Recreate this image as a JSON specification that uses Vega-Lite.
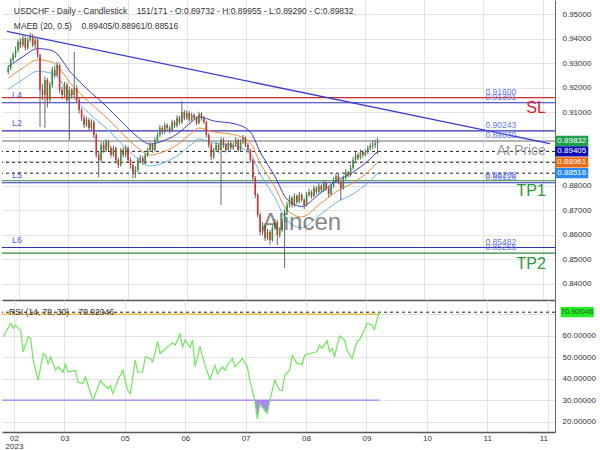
{
"$schema": "https://vega.github.io/schema/vega-lite/v6.json",
"padding": 0,
"spacing": 0,
"background": "white",
"config": {"view": {"stroke": null}, "font": "Liberation Sans", "axis": {"labelFontSize": 8, "labelColor": "#333", "gridColor": "#e3e3e3", "domainColor": "#555", "ticks": false, "labelPadding": 7, "labelOverlap": false}},
"datasets": {
"candles": [
{"i":0,"o":0.9265,"h":0.9292,"l":0.9255,"c":0.9281},
{"i":1,"o":0.9281,"h":0.9322,"l":0.9272,"c":0.9314},
{"i":2,"o":0.9314,"h":0.9345,"l":0.9305,"c":0.9334},
{"i":3,"o":0.9334,"h":0.9368,"l":0.9322,"c":0.9354},
{"i":4,"o":0.9354,"h":0.9398,"l":0.9345,"c":0.9387},
{"i":5,"o":0.9387,"h":0.9402,"l":0.9362,"c":0.9375},
{"i":6,"o":0.9375,"h":0.9418,"l":0.9366,"c":0.9403},
{"i":7,"o":0.9403,"h":0.9410,"l":0.9352,"c":0.9363},
{"i":8,"o":0.9363,"h":0.9405,"l":0.9355,"c":0.9395},
{"i":9,"o":0.9395,"h":0.9425,"l":0.9386,"c":0.9412},
{"i":10,"o":0.9412,"h":0.9420,"l":0.9366,"c":0.9375},
{"i":11,"o":0.9375,"h":0.9404,"l":0.9362,"c":0.9395},
{"i":12,"o":0.9395,"h":0.9402,"l":0.9322,"c":0.9334},
{"i":13,"o":0.9334,"h":0.9340,"l":0.9040,"c":0.9191},
{"i":14,"o":0.9191,"h":0.9215,"l":0.9150,"c":0.9171},
{"i":15,"o":0.9171,"h":0.9245,"l":0.9036,"c":0.9232},
{"i":16,"o":0.9232,"h":0.9240,"l":0.9120,"c":0.9150},
{"i":17,"o":0.9150,"h":0.9225,"l":0.9140,"c":0.9212},
{"i":18,"o":0.9212,"h":0.9285,"l":0.9200,"c":0.9273},
{"i":19,"o":0.9273,"h":0.9290,"l":0.9240,"c":0.9252},
{"i":20,"o":0.9252,"h":0.9305,"l":0.9245,"c":0.9293},
{"i":21,"o":0.9293,"h":0.9300,"l":0.9180,"c":0.9191},
{"i":22,"o":0.9191,"h":0.9205,"l":0.9155,"c":0.9171},
{"i":23,"o":0.9171,"h":0.9225,"l":0.9160,"c":0.9212},
{"i":24,"o":0.9212,"h":0.9222,"l":0.9138,"c":0.9150},
{"i":25,"o":0.9150,"h":0.9205,"l":0.8987,"c":0.9191},
{"i":26,"o":0.9191,"h":0.9200,"l":0.9160,"c":0.9171},
{"i":27,"o":0.9171,"h":0.9346,"l":0.9160,"c":0.9199},
{"i":28,"o":0.9199,"h":0.9210,"l":0.9138,"c":0.9150},
{"i":29,"o":0.9150,"h":0.9160,"l":0.9095,"c":0.9109},
{"i":30,"o":0.9109,"h":0.9118,"l":0.9065,"c":0.9077},
{"i":31,"o":0.9077,"h":0.9088,"l":0.9035,"c":0.9048},
{"i":32,"o":0.9048,"h":0.9082,"l":0.9040,"c":0.9069},
{"i":33,"o":0.9069,"h":0.9078,"l":0.9025,"c":0.9036},
{"i":34,"o":0.9036,"h":0.9072,"l":0.9028,"c":0.9060},
{"i":35,"o":0.9060,"h":0.9068,"l":0.8995,"c":0.9007},
{"i":36,"o":0.9007,"h":0.9015,"l":0.8915,"c":0.8926},
{"i":37,"o":0.8926,"h":0.8940,"l":0.8836,"c":0.8905},
{"i":38,"o":0.8905,"h":0.8978,"l":0.8895,"c":0.8967},
{"i":39,"o":0.8967,"h":0.8980,"l":0.8935,"c":0.8946},
{"i":40,"o":0.8946,"h":0.8990,"l":0.8938,"c":0.8979},
{"i":41,"o":0.8979,"h":0.8988,"l":0.8942,"c":0.8954},
{"i":42,"o":0.8954,"h":0.8962,"l":0.8915,"c":0.8926},
{"i":43,"o":0.8926,"h":0.8965,"l":0.8918,"c":0.8954},
{"i":44,"o":0.8954,"h":0.8960,"l":0.8895,"c":0.8905},
{"i":45,"o":0.8905,"h":0.8915,"l":0.8872,"c":0.8885},
{"i":46,"o":0.8885,"h":0.8955,"l":0.8878,"c":0.8946},
{"i":47,"o":0.8946,"h":0.8958,"l":0.8915,"c":0.8926},
{"i":48,"o":0.8926,"h":0.8965,"l":0.8918,"c":0.8954},
{"i":49,"o":0.8954,"h":0.8962,"l":0.8895,"c":0.8905},
{"i":50,"o":0.8905,"h":0.8915,"l":0.8870,"c":0.8885},
{"i":51,"o":0.8885,"h":0.8892,"l":0.8830,"c":0.8856},
{"i":52,"o":0.8856,"h":0.8880,"l":0.8832,"c":0.8865},
{"i":53,"o":0.8865,"h":0.8915,"l":0.8855,"c":0.8905},
{"i":54,"o":0.8905,"h":0.8925,"l":0.8895,"c":0.8914},
{"i":55,"o":0.8914,"h":0.8922,"l":0.8885,"c":0.8897},
{"i":56,"o":0.8897,"h":0.8935,"l":0.8888,"c":0.8926},
{"i":57,"o":0.8926,"h":0.8955,"l":0.8918,"c":0.8946},
{"i":58,"o":0.8946,"h":0.8978,"l":0.8938,"c":0.8967},
{"i":59,"o":0.8967,"h":0.8975,"l":0.8935,"c":0.8946},
{"i":60,"o":0.8946,"h":0.8998,"l":0.8940,"c":0.8987},
{"i":61,"o":0.8987,"h":0.9018,"l":0.8978,"c":0.9007},
{"i":62,"o":0.9007,"h":0.9048,"l":0.9000,"c":0.9036},
{"i":63,"o":0.9036,"h":0.9045,"l":0.9010,"c":0.9020},
{"i":64,"o":0.9020,"h":0.9058,"l":0.9012,"c":0.9048},
{"i":65,"o":0.9048,"h":0.9055,"l":0.9025,"c":0.9036},
{"i":66,"o":0.9036,"h":0.9045,"l":0.9015,"c":0.9028},
{"i":67,"o":0.9028,"h":0.9070,"l":0.9020,"c":0.9060},
{"i":68,"o":0.9060,"h":0.9068,"l":0.9035,"c":0.9044},
{"i":69,"o":0.9044,"h":0.9088,"l":0.9038,"c":0.9077},
{"i":70,"o":0.9077,"h":0.9085,"l":0.9050,"c":0.9060},
{"i":71,"o":0.9060,"h":0.9146,"l":0.9052,"c":0.9101},
{"i":72,"o":0.9101,"h":0.9110,"l":0.9068,"c":0.9077},
{"i":73,"o":0.9077,"h":0.9108,"l":0.9070,"c":0.9097},
{"i":74,"o":0.9097,"h":0.9105,"l":0.9060,"c":0.9069},
{"i":75,"o":0.9069,"h":0.9098,"l":0.9062,"c":0.9089},
{"i":76,"o":0.9089,"h":0.9096,"l":0.9068,"c":0.9077},
{"i":77,"o":0.9077,"h":0.9085,"l":0.9048,"c":0.9056},
{"i":78,"o":0.9056,"h":0.9102,"l":0.9050,"c":0.9093},
{"i":79,"o":0.9093,"h":0.9100,"l":0.9066,"c":0.9077},
{"i":80,"o":0.9077,"h":0.9085,"l":0.9052,"c":0.9060},
{"i":81,"o":0.9060,"h":0.9066,"l":0.8998,"c":0.9007},
{"i":82,"o":0.9007,"h":0.9015,"l":0.8955,"c":0.8967},
{"i":83,"o":0.8967,"h":0.8975,"l":0.8905,"c":0.8918},
{"i":84,"o":0.8918,"h":0.8955,"l":0.8910,"c":0.8946},
{"i":85,"o":0.8946,"h":0.8978,"l":0.8938,"c":0.8967},
{"i":86,"o":0.8967,"h":0.8975,"l":0.8935,"c":0.8946},
{"i":87,"o":0.8946,"h":0.8998,"l":0.8722,"c":0.8987},
{"i":88,"o":0.8987,"h":0.8995,"l":0.8955,"c":0.8967},
{"i":89,"o":0.8967,"h":0.8975,"l":0.8936,"c":0.8946},
{"i":90,"o":0.8946,"h":0.8985,"l":0.8940,"c":0.8975},
{"i":91,"o":0.8975,"h":0.8982,"l":0.8945,"c":0.8954},
{"i":92,"o":0.8954,"h":0.8978,"l":0.8946,"c":0.8967},
{"i":93,"o":0.8967,"h":0.8998,"l":0.8960,"c":0.8987},
{"i":94,"o":0.8987,"h":0.8992,"l":0.8938,"c":0.8946},
{"i":95,"o":0.8946,"h":0.8990,"l":0.8940,"c":0.8979},
{"i":96,"o":0.8979,"h":0.9008,"l":0.8970,"c":0.8995},
{"i":97,"o":0.8995,"h":0.9002,"l":0.8958,"c":0.8967},
{"i":98,"o":0.8967,"h":0.8975,"l":0.8935,"c":0.8946},
{"i":99,"o":0.8946,"h":0.8952,"l":0.8895,"c":0.8905},
{"i":100,"o":0.8905,"h":0.8912,"l":0.8822,"c":0.8832},
{"i":101,"o":0.8832,"h":0.8840,"l":0.8750,"c":0.8763},
{"i":102,"o":0.8763,"h":0.8770,"l":0.8670,"c":0.8681},
{"i":103,"o":0.8681,"h":0.8690,"l":0.8598,"c":0.8612},
{"i":104,"o":0.8612,"h":0.8652,"l":0.8600,"c":0.8640},
{"i":105,"o":0.8640,"h":0.8648,"l":0.8575,"c":0.8587},
{"i":106,"o":0.8587,"h":0.8625,"l":0.8578,"c":0.8612},
{"i":107,"o":0.8612,"h":0.8620,"l":0.8560,"c":0.8579},
{"i":108,"o":0.8579,"h":0.8640,"l":0.8572,"c":0.8628},
{"i":109,"o":0.8628,"h":0.8665,"l":0.8620,"c":0.8652},
{"i":110,"o":0.8652,"h":0.8660,"l":0.8558,"c":0.8599},
{"i":111,"o":0.8599,"h":0.8632,"l":0.8588,"c":0.8620},
{"i":112,"o":0.8620,"h":0.8665,"l":0.8612,"c":0.8652},
{"i":113,"o":0.8652,"h":0.8705,"l":0.8465,"c":0.8693},
{"i":114,"o":0.8693,"h":0.8735,"l":0.8685,"c":0.8722},
{"i":115,"o":0.8722,"h":0.8762,"l":0.8712,"c":0.8750},
{"i":116,"o":0.8750,"h":0.8758,"l":0.8712,"c":0.8722},
{"i":117,"o":0.8722,"h":0.8770,"l":0.8715,"c":0.8758},
{"i":118,"o":0.8758,"h":0.8765,"l":0.8725,"c":0.8734},
{"i":119,"o":0.8734,"h":0.8775,"l":0.8728,"c":0.8763},
{"i":120,"o":0.8763,"h":0.8770,"l":0.8735,"c":0.8742},
{"i":121,"o":0.8742,"h":0.8750,"l":0.8705,"c":0.8722},
{"i":122,"o":0.8722,"h":0.8775,"l":0.8715,"c":0.8763},
{"i":123,"o":0.8763,"h":0.8788,"l":0.8755,"c":0.8775},
{"i":124,"o":0.8775,"h":0.8782,"l":0.8748,"c":0.8758},
{"i":125,"o":0.8758,"h":0.8802,"l":0.8752,"c":0.8791},
{"i":126,"o":0.8791,"h":0.8798,"l":0.8765,"c":0.8775},
{"i":127,"o":0.8775,"h":0.8810,"l":0.8768,"c":0.8799},
{"i":128,"o":0.8799,"h":0.8806,"l":0.8774,"c":0.8783},
{"i":129,"o":0.8783,"h":0.8822,"l":0.8776,"c":0.8812},
{"i":130,"o":0.8812,"h":0.8818,"l":0.8780,"c":0.8791},
{"i":131,"o":0.8791,"h":0.8798,"l":0.8755,"c":0.8767},
{"i":132,"o":0.8767,"h":0.8808,"l":0.8760,"c":0.8799},
{"i":133,"o":0.8799,"h":0.8835,"l":0.8792,"c":0.8824},
{"i":134,"o":0.8824,"h":0.8852,"l":0.8815,"c":0.8840},
{"i":135,"o":0.8840,"h":0.8848,"l":0.8806,"c":0.8816},
{"i":136,"o":0.8816,"h":0.8825,"l":0.8742,"c":0.8791},
{"i":137,"o":0.8791,"h":0.8842,"l":0.8785,"c":0.8832},
{"i":138,"o":0.8832,"h":0.8868,"l":0.8825,"c":0.8856},
{"i":139,"o":0.8856,"h":0.8862,"l":0.8835,"c":0.8844},
{"i":140,"o":0.8844,"h":0.8885,"l":0.8838,"c":0.8873},
{"i":141,"o":0.8873,"h":0.8918,"l":0.8866,"c":0.8905},
{"i":142,"o":0.8905,"h":0.8938,"l":0.8898,"c":0.8926},
{"i":143,"o":0.8926,"h":0.8935,"l":0.8905,"c":0.8914},
{"i":144,"o":0.8914,"h":0.8948,"l":0.8908,"c":0.8938},
{"i":145,"o":0.8938,"h":0.8945,"l":0.8915,"c":0.8926},
{"i":146,"o":0.8926,"h":0.8950,"l":0.8920,"c":0.8938},
{"i":147,"o":0.8938,"h":0.8965,"l":0.8930,"c":0.8954},
{"i":148,"o":0.8954,"h":0.8975,"l":0.8945,"c":0.8963},
{"i":149,"o":0.8963,"h":0.8985,"l":0.8950,"c":0.8967},
{"i":150,"o":0.8967,"h":0.8988,"l":0.8955,"c":0.8973},
{"i":151,"o":0.89732,"h":0.89955,"l":0.8929,"c":0.89832}
],
"ma": [
{"i":0,"up":0.9286,"mid":0.9240,"lo":0.9194},
{"i":6,"up":0.9327,"mid":0.9281,"lo":0.9234},
{"i":12,"up":0.9360,"mid":0.9314,"lo":0.9267},
{"i":18,"up":0.9352,"mid":0.9305,"lo":0.9259},
{"i":26,"up":0.9258,"mid":0.9212,"lo":0.9165},
{"i":33,"up":0.9188,"mid":0.9142,"lo":0.9096},
{"i":40,"up":0.9126,"mid":0.9081,"lo":0.9035},
{"i":46,"up":0.9065,"mid":0.9020,"lo":0.8975},
{"i":53,"up":0.8999,"mid":0.8954,"lo":0.8910},
{"i":58,"up":0.8970,"mid":0.8926,"lo":0.8881},
{"i":62,"up":0.8979,"mid":0.8934,"lo":0.8889},
{"i":69,"up":0.9011,"mid":0.8967,"lo":0.8922},
{"i":75,"up":0.9061,"mid":0.9016,"lo":0.8970},
{"i":78,"up":0.9081,"mid":0.9036,"lo":0.8991},
{"i":84,"up":0.9065,"mid":0.9020,"lo":0.8975},
{"i":93,"up":0.9052,"mid":0.9007,"lo":0.8962},
{"i":99,"up":0.9020,"mid":0.8975,"lo":0.8930},
{"i":103,"up":0.8938,"mid":0.8893,"lo":0.8849},
{"i":109,"up":0.8839,"mid":0.8795,"lo":0.8751},
{"i":114,"up":0.8745,"mid":0.8701,"lo":0.8658},
{"i":120,"up":0.8716,"mid":0.8673,"lo":0.8629},
{"i":127,"up":0.8765,"mid":0.8722,"lo":0.8678},
{"i":134,"up":0.8819,"mid":0.8775,"lo":0.8731},
{"i":141,"up":0.8856,"mid":0.8812,"lo":0.8767},
{"i":147,"up":0.8901,"mid":0.8856,"lo":0.8812},
{"i":151,"up":0.89405,"mid":0.88961,"lo":0.88516}
],
"trend": [{"i":-0.5,"v":0.9430},{"i":221.5,"v":0.8972}],
"levels": [
{"v":0.916,"k":"sl","lab":"0.91600","name":""},
{"v":0.91391,"k":"lvl","lab":"0.91391","name":"L4"},
{"v":0.90243,"k":"lvl","lab":"0.90243","name":"L2"},
{"v":0.89832,"k":"price","lab":"0.89830","name":""},
{"v":0.88208,"k":"tp","lab":"0.88208","name":""},
{"v":0.88126,"k":"lvl","lab":"0.88126","name":"L5"},
{"v":0.85482,"k":"lvl","lab":"0.85482","name":"L6"},
{"v":0.85256,"k":"tp","lab":"0.85256","name":""},
{"v":0.89405,"k":"ma","lab":"","name":""},
{"v":0.88961,"k":"ma","lab":"","name":""},
{"v":0.88516,"k":"ma","lab":"","name":""}
],
"tags": [
{"t":"SL","v":0.916,"k":"sl"},
{"t":"At Price","v":0.89832,"k":"price"},
{"t":"TP1","v":0.88208,"k":"tp"},
{"t":"TP2","v":0.85256,"k":"tp"}
],
"badges": [
{"v":0.89832,"t":"0.89832","b":"price"},
{"v":0.89405,"t":"0.89405","b":"up"},
{"v":0.88961,"t":"0.88961","b":"mid"},
{"v":0.88516,"t":"0.88516","b":"lo"}
],
"rsi": [
{"i":0,"r":59.5},{"i":3,"r":65.8},{"i":4,"r":63.4},{"i":5,"r":65},{"i":6,"r":63.4},{"i":7,"r":62.6},{"i":8,"r":52.5},{"i":10,"r":59.5},{"i":11,"r":58.8},{"i":12,"r":48.6},{"i":14,"r":39.2},{"i":16,"r":51.7},{"i":17,"r":50.9},{"i":18,"r":47},{"i":19,"r":50.2},{"i":21,"r":43.9},{"i":22,"r":45.5},{"i":24,"r":43.1},{"i":25,"r":46.7},{"i":26,"r":43.1},{"i":29,"r":43.9},{"i":30,"r":38.4},{"i":32,"r":37.7},{"i":33,"r":40.8},{"i":36,"r":29.8},{"i":39,"r":39.2},{"i":40,"r":37.7},{"i":42,"r":35.3},{"i":43,"r":36.9},{"i":44,"r":33},{"i":46,"r":39.2},{"i":47,"r":41.6},{"i":48,"r":43.9},{"i":50,"r":34.5},{"i":51,"r":33},{"i":53,"r":48.6},{"i":54,"r":43.1},{"i":56,"r":43.1},{"i":57,"r":50.2},{"i":59,"r":49.4},{"i":60,"r":47.8},{"i":62,"r":57.2},{"i":63,"r":51.7},{"i":66,"r":54.8},{"i":68,"r":56.7},{"i":69,"r":55.6},{"i":71,"r":60.8},{"i":72,"r":54.8},{"i":73,"r":58},{"i":75,"r":54.5},{"i":76,"r":58},{"i":77,"r":45.5},{"i":79,"r":54.8},{"i":81,"r":46.3},{"i":83,"r":39.5},{"i":85,"r":46.3},{"i":86,"r":42.3},{"i":88,"r":45.5},{"i":89,"r":43.9},{"i":90,"r":46.3},{"i":92,"r":49.4},{"i":93,"r":45.5},{"i":96,"r":49.4},{"i":98,"r":45.5},{"i":99,"r":39.2},{"i":101,"r":29.8},{"i":102,"r":21.3},{"i":103,"r":28.3},{"i":105,"r":25.2},{"i":106,"r":23.9},{"i":107,"r":29.8},{"i":108,"r":34.5},{"i":109,"r":39.2},{"i":111,"r":34.5},{"i":112,"r":34.5},{"i":113,"r":41.6},{"i":115,"r":43.9},{"i":116,"r":50.9},{"i":118,"r":47},{"i":120,"r":46.7},{"i":121,"r":50.9},{"i":123,"r":51.7},{"i":126,"r":52.5},{"i":127,"r":55.6},{"i":128,"r":54.1},{"i":130,"r":57.7},{"i":131,"r":52.5},{"i":132,"r":54.1},{"i":133,"r":50.2},{"i":135,"r":59.8},{"i":137,"r":58},{"i":138,"r":53.3},{"i":140,"r":49.4},{"i":142,"r":57.2},{"i":143,"r":58},{"i":145,"r":62.7},{"i":146,"r":65.8},{"i":148,"r":65},{"i":149,"r":62.7},{"i":150,"r":67.3},{"i":151,"r":70.92}
],
"rsifill": [
{"i":101,"r":29.8},{"i":102,"r":21.3},{"i":103,"r":28.3},{"i":105,"r":25.2},{"i":106,"r":23.9},{"i":107,"r":29.8}
],
"rsilevels": [
{"v":70,"k":"ob"},{"v":30,"k":"os"},{"v":70.92046,"k":"cur"}
]
},
"vconcat": [
{
"width": 553,
"height": 300,
"resolve": {"scale": {"color": "independent"}},
"layer": [
{"data": {"name": "levels"}, "transform": [{"filter": "datum.k == 'sl' || datum.k == 'lvl' || datum.k == 'tp'"}],
 "mark": {"type": "rule", "strokeWidth": 1.2},
 "encoding": {
  "y": {"field": "v", "type": "quantitative", "scale": {"domain": [0.8334, 0.95584], "nice": false, "zero": false}, "axis": {"orient": "right", "values": [0.84,0.85,0.86,0.87,0.88,0.89,0.9,0.91,0.92,0.93,0.94,0.95], "labelOverlap": false, "format": ".5f", "labelExpr": "datum.value == 0.9 || datum.value == 0.89 ? '' : datum.label", "title": null, "grid": true, "domainColor": "#666"}},
  "color": {"field": "k", "type": "nominal", "scale": {"domain": ["sl","lvl","tp"], "range": ["#d42a2a","#2f2fb8","#2e8b3a"]}, "legend": null}
 }},
{"data": {"name": "levels"}, "transform": [{"filter": "datum.k == 'price'"}],
 "mark": {"type": "rule", "strokeWidth": 2, "color": "#b5b5b5"},
 "encoding": {"y": {"field": "v", "type": "quantitative", "axis": {"orient": "right", "values": [0.84,0.85,0.86,0.87,0.88,0.89,0.9,0.91,0.92,0.93,0.94,0.95], "labelOverlap": false, "format": ".5f", "labelExpr": "datum.value == 0.9 || datum.value == 0.89 ? '' : datum.label", "title": null, "grid": true, "domainColor": "#666"}}}},
{"data": {"name": "levels"}, "transform": [{"filter": "datum.k == 'ma'"}],
 "mark": {"type": "rule", "strokeWidth": 1, "color": "#222", "strokeDash": [3,3]},
 "encoding": {"y": {"field": "v", "type": "quantitative", "axis": {"orient": "right", "values": [0.84,0.85,0.86,0.87,0.88,0.89,0.9,0.91,0.92,0.93,0.94,0.95], "labelOverlap": false, "format": ".5f", "labelExpr": "datum.value == 0.9 || datum.value == 0.89 ? '' : datum.label", "title": null, "grid": true, "domainColor": "#666"}}}},
{"data": {"name": "ma"}, "mark": {"type": "line", "color": "#6cb4f0", "strokeWidth": 1, "interpolate": "monotone"},
 "encoding": {"x": {"field": "i", "type": "quantitative"}, "y": {"field": "lo", "type": "quantitative", "axis": {"orient": "right", "values": [0.84,0.85,0.86,0.87,0.88,0.89,0.9,0.91,0.92,0.93,0.94,0.95], "labelOverlap": false, "format": ".5f", "labelExpr": "datum.value == 0.9 || datum.value == 0.89 ? '' : datum.label", "title": null, "grid": true, "domainColor": "#666"}}}},
{"data": {"name": "ma"}, "mark": {"type": "line", "color": "#f08a3c", "strokeWidth": 1, "interpolate": "monotone"},
 "encoding": {"x": {"field": "i", "type": "quantitative"}, "y": {"field": "mid", "type": "quantitative", "axis": {"orient": "right", "values": [0.84,0.85,0.86,0.87,0.88,0.89,0.9,0.91,0.92,0.93,0.94,0.95], "labelOverlap": false, "format": ".5f", "labelExpr": "datum.value == 0.9 || datum.value == 0.89 ? '' : datum.label", "title": null, "grid": true, "domainColor": "#666"}}}},
{"data": {"name": "ma"}, "mark": {"type": "line", "color": "#3b3bcc", "strokeWidth": 1, "interpolate": "monotone"},
 "encoding": {"x": {"field": "i", "type": "quantitative"}, "y": {"field": "up", "type": "quantitative", "axis": {"orient": "right", "values": [0.84,0.85,0.86,0.87,0.88,0.89,0.9,0.91,0.92,0.93,0.94,0.95], "labelOverlap": false, "format": ".5f", "labelExpr": "datum.value == 0.9 || datum.value == 0.89 ? '' : datum.label", "title": null, "grid": true, "domainColor": "#666"}}}},
{"data": {"name": "trend"}, "mark": {"type": "line", "color": "#3b3bd6", "strokeWidth": 1.3},
 "encoding": {"x": {"field": "i", "type": "quantitative"}, "y": {"field": "v", "type": "quantitative", "axis": {"orient": "right", "values": [0.84,0.85,0.86,0.87,0.88,0.89,0.9,0.91,0.92,0.93,0.94,0.95], "labelOverlap": false, "format": ".5f", "labelExpr": "datum.value == 0.9 || datum.value == 0.89 ? '' : datum.label", "title": null, "grid": true, "domainColor": "#666"}}}},
{"data": {"name": "candles"}, "mark": {"type": "rule", "color": "#666", "strokeWidth": 1},
 "encoding": {
  "x": {"field": "i", "type": "quantitative", "scale": {"domain": [-0.5, 221.5], "nice": false, "zero": false}, "axis": {"orient": "bottom", "labels": false, "values": [4.3,24.56,48.8,73.1,97.3,121.5,145.8,170.1,194.3,218.5], "grid": true, "title": null, "domainColor": "#555", "domainWidth": 1.5}},
  "y": {"field": "l", "type": "quantitative", "axis": {"orient": "right", "values": [0.84,0.85,0.86,0.87,0.88,0.89,0.9,0.91,0.92,0.93,0.94,0.95], "labelOverlap": false, "format": ".5f", "labelExpr": "datum.value == 0.9 || datum.value == 0.89 ? '' : datum.label", "title": null, "grid": true, "domainColor": "#666"}},
  "y2": {"field": "h"}
 }},
{"data": {"name": "candles"}, "mark": {"type": "bar", "size": 1.6},
 "encoding": {
  "x": {"field": "i", "type": "quantitative"},
  "y": {"field": "o", "type": "quantitative", "axis": {"orient": "right", "values": [0.84,0.85,0.86,0.87,0.88,0.89,0.9,0.91,0.92,0.93,0.94,0.95], "labelOverlap": false, "format": ".5f", "labelExpr": "datum.value == 0.9 || datum.value == 0.89 ? '' : datum.label", "title": null, "grid": true, "domainColor": "#666"}},
  "y2": {"field": "c"},
  "color": {"condition": {"test": "datum.c >= datum.o", "value": "#2f9a3a"}, "value": "#d63030"}
 }},
{"data": {"name": "levels"}, "transform": [{"filter": "datum.lab != ''"}],
 "mark": {"type": "text", "align": "left", "baseline": "bottom", "dy": -1, "fontSize": 8.5, "color": "#6677ee"},
 "encoding": {"x": {"datum": 195.1}, "y": {"field": "v", "type": "quantitative", "axis": {"orient": "right", "values": [0.84,0.85,0.86,0.87,0.88,0.89,0.9,0.91,0.92,0.93,0.94,0.95], "labelOverlap": false, "format": ".5f", "labelExpr": "datum.value == 0.9 || datum.value == 0.89 ? '' : datum.label", "title": null, "grid": true, "domainColor": "#666"}}, "text": {"field": "lab"}}},
{"data": {"name": "levels"}, "transform": [{"filter": "datum.name != ''"}],
 "mark": {"type": "text", "align": "left", "baseline": "bottom", "dy": -3, "fontSize": 9, "color": "#5566dd"},
 "encoding": {"x": {"datum": 1.5}, "y": {"field": "v", "type": "quantitative", "axis": {"orient": "right", "values": [0.84,0.85,0.86,0.87,0.88,0.89,0.9,0.91,0.92,0.93,0.94,0.95], "labelOverlap": false, "format": ".5f", "labelExpr": "datum.value == 0.9 || datum.value == 0.89 ? '' : datum.label", "title": null, "grid": true, "domainColor": "#666"}}, "text": {"field": "name"}}},
{"data": {"name": "tags"},
 "mark": {"type": "text", "align": "right", "baseline": "middle", "dy": 10.5},
 "encoding": {"x": {"datum": 219.8}, "y": {"field": "v", "type": "quantitative", "axis": {"orient": "right", "values": [0.84,0.85,0.86,0.87,0.88,0.89,0.9,0.91,0.92,0.93,0.94,0.95], "labelOverlap": false, "format": ".5f", "labelExpr": "datum.value == 0.9 || datum.value == 0.89 ? '' : datum.label", "title": null, "grid": true, "domainColor": "#666"}}, "text": {"field": "t"},
  "size": {"condition": {"test": "datum.k == 'price'", "value": 14}, "value": 16},
  "color": {"field": "k", "type": "nominal", "scale": {"domain": ["sl","price","tp"], "range": ["#e02020","#999999","#2e9a3a"]}, "legend": null}}},
{"data": {"values": [{}]}, "mark": {"type": "text", "text": "Alincen", "fontSize": 24, "color": "#555", "opacity": 0.7, "align": "center", "baseline": "middle"},
 "encoding": {"x": {"datum": 120}, "y": {"datum": 0.8648, "axis": {"orient": "right", "values": [0.84,0.85,0.86,0.87,0.88,0.89,0.9,0.91,0.92,0.93,0.94,0.95], "labelOverlap": false, "format": ".5f", "labelExpr": "datum.value == 0.9 || datum.value == 0.89 ? '' : datum.label", "title": null, "grid": true, "domainColor": "#666"}}}},
{"data": {"values": [{}]}, "mark": {"type": "text", "text": "USDCHF - Daily - Candlestick\u00a0\u00a0\u00a0\u00a0151/171 - O:0.89732 - H:0.89955 - L:0.89290 - C:0.89832", "fontSize": 8.5, "color": "#333", "align": "left", "baseline": "middle"},
 "encoding": {"x": {"datum": 2.3}, "y": {"datum": 0.95155, "axis": {"orient": "right", "values": [0.84,0.85,0.86,0.87,0.88,0.89,0.9,0.91,0.92,0.93,0.94,0.95], "labelOverlap": false, "format": ".5f", "labelExpr": "datum.value == 0.9 || datum.value == 0.89 ? '' : datum.label", "title": null, "grid": true, "domainColor": "#666"}}}},
{"data": {"values": [{}]}, "mark": {"type": "text", "text": "MAEB (20, 0.5)\u00a0\u00a0\u00a0\u00a00.89405/0.88961/0.88516", "fontSize": 8.5, "color": "#333", "align": "left", "baseline": "middle"},
 "encoding": {"x": {"datum": 2.3}, "y": {"datum": 0.94543, "axis": {"orient": "right", "values": [0.84,0.85,0.86,0.87,0.88,0.89,0.9,0.91,0.92,0.93,0.94,0.95], "labelOverlap": false, "format": ".5f", "labelExpr": "datum.value == 0.9 || datum.value == 0.89 ? '' : datum.label", "title": null, "grid": true, "domainColor": "#666"}}}},
{"data": {"name": "badges"},
 "mark": {"type": "point", "filled": true, "opacity": 1, "strokeWidth": 0, "shape": "M-1,-0.31L1,-0.31L1,0.31L-1,0.31Z", "size": 1089},
 "encoding": {"x": {"datum": 230.4}, "y": {"field": "v", "type": "quantitative", "axis": {"orient": "right", "values": [0.84,0.85,0.86,0.87,0.88,0.89,0.9,0.91,0.92,0.93,0.94,0.95], "labelOverlap": false, "format": ".5f", "labelExpr": "datum.value == 0.9 || datum.value == 0.89 ? '' : datum.label", "title": null, "grid": true, "domainColor": "#666"}},
  "color": {"field": "b", "type": "nominal", "scale": {"domain": ["price","up","mid","lo"], "range": ["#1f9e4c","#0c0cb0","#ee6a12","#2a8af0"]}, "legend": null}}},
{"data": {"name": "badges"},
 "mark": {"type": "text", "fontSize": 8, "color": "white", "align": "center", "baseline": "middle"},
 "encoding": {"x": {"datum": 230.4}, "y": {"field": "v", "type": "quantitative", "axis": {"orient": "right", "values": [0.84,0.85,0.86,0.87,0.88,0.89,0.9,0.91,0.92,0.93,0.94,0.95], "labelOverlap": false, "format": ".5f", "labelExpr": "datum.value == 0.9 || datum.value == 0.89 ? '' : datum.label", "title": null, "grid": true, "domainColor": "#666"}}, "text": {"field": "t"}}}
]
},
{
"width": 553,
"height": 132,
"layer": [
{"data": {"name": "rsilevels"}, "transform": [{"filter": "datum.k != 'cur'"}],
 "mark": {"type": "rule", "strokeWidth": 1.2},
 "encoding": {
  "x": {"datum": -0.5, "scale": {"domain": [-0.5, 221.5], "nice": false, "zero": false}},
  "x2": {"datum": 151},
  "y": {"field": "v", "type": "quantitative", "scale": {"domain": [15.2, 76.6], "nice": false, "zero": false}, "axis": {"orient": "right", "values": [20,30,40,50,60,70], "labelOverlap": false, "format": ".5f", "labelExpr": "datum.value == 70 ? '' : datum.label", "title": null, "grid": true, "domainColor": "#666"}},
  "color": {"field": "k", "type": "nominal", "scale": {"domain": ["ob","os"], "range": ["#f2b630","#a97cf5"]}, "legend": null}
 }},
{"data": {"name": "rsilevels"}, "transform": [{"filter": "datum.k == 'cur'"}],
 "mark": {"type": "rule", "strokeWidth": 1, "color": "#222", "strokeDash": [3,3]},
 "encoding": {"y": {"field": "v", "type": "quantitative", "axis": {"orient": "right", "values": [20,30,40,50,60,70], "labelOverlap": false, "format": ".5f", "labelExpr": "datum.value == 70 ? '' : datum.label", "title": null, "grid": true, "domainColor": "#666"}}}},
{"data": {"name": "rsifill"}, "mark": {"type": "area", "color": "#a27af0", "opacity": 0.9},
 "encoding": {"x": {"field": "i", "type": "quantitative"}, "y": {"field": "r", "type": "quantitative", "axis": {"orient": "right", "values": [20,30,40,50,60,70], "labelOverlap": false, "format": ".5f", "labelExpr": "datum.value == 70 ? '' : datum.label", "title": null, "grid": true, "domainColor": "#666"}}, "y2": {"datum": 30}}},
{"data": {"name": "rsi"}, "mark": {"type": "line", "color": "#6ee85a", "strokeWidth": 1.2},
 "encoding": {
  "x": {"field": "i", "type": "quantitative", "axis": {"orient": "bottom", "values": [4.3,24.56,48.8,73.1,97.3,121.5,145.8,170.1,194.3,218.5], "labelFlush": 10, "labelPadding": 2, "labelLineHeight": 8.5, "grid": true, "title": null, "domainColor": "#555", "domainWidth": 1.5,
   "labelExpr": "datum.value < 10 ? ['02','2023'] : datum.value < 36 ? '03' : datum.value < 60 ? '05' : datum.value < 85 ? '06' : datum.value < 110 ? '07' : datum.value < 133 ? '08' : datum.value < 158 ? '09' : datum.value < 182 ? '10' : '11'"}},
  "y": {"field": "r", "type": "quantitative", "axis": {"orient": "right", "values": [20,30,40,50,60,70], "labelOverlap": false, "format": ".5f", "labelExpr": "datum.value == 70 ? '' : datum.label", "title": null, "grid": true, "domainColor": "#666"}}
 }},
{"data": {"values": [{}]}, "mark": {"type": "text", "text": "RSI (14, 70, 30)\u00a0\u00a0\u00a0\u00a070.92046", "fontSize": 8.5, "color": "#333", "align": "left", "baseline": "middle"},
 "encoding": {"x": {"datum": 2.3}, "y": {"datum": 71.2, "axis": {"orient": "right", "values": [20,30,40,50,60,70], "labelOverlap": false, "format": ".5f", "labelExpr": "datum.value == 70 ? '' : datum.label", "title": null, "grid": true, "domainColor": "#666"}}}},
{"data": {"values": [{}]}, "mark": {"type": "point", "filled": true, "opacity": 1, "strokeWidth": 0, "shape": "M-1,-0.31L1,-0.31L1,0.31L-1,0.31Z", "size": 1089, "color": "#22ee22"},
 "encoding": {"x": {"datum": 230.4}, "y": {"datum": 70.92046, "axis": {"orient": "right", "values": [20,30,40,50,60,70], "labelOverlap": false, "format": ".5f", "labelExpr": "datum.value == 70 ? '' : datum.label", "title": null, "grid": true, "domainColor": "#666"}}}},
{"data": {"values": [{}]}, "mark": {"type": "text", "text": "70.92046", "fontSize": 8, "color": "#2d5a2d", "align": "center", "baseline": "middle"},
 "encoding": {"x": {"datum": 230.4}, "y": {"datum": 70.92046, "axis": {"orient": "right", "values": [20,30,40,50,60,70], "labelOverlap": false, "format": ".5f", "labelExpr": "datum.value == 70 ? '' : datum.label", "title": null, "grid": true, "domainColor": "#666"}}}}
]
}
]
}
